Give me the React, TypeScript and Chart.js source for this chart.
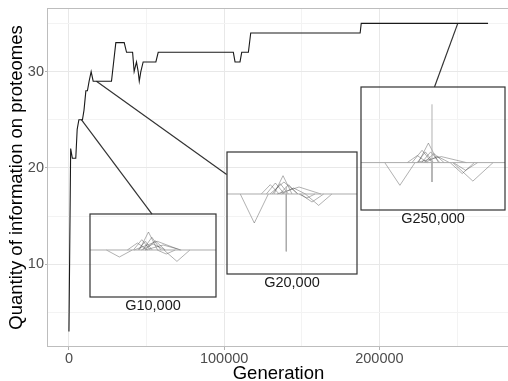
import React, { useEffect, useRef } from 'react';
import { Chart, registerables } from 'chart.js';

Chart.register(...registerables);

const FONT = "'Liberation Sans', Arial, Helvetica, sans-serif";

// ---- main series: quantity of information on proteomes vs generation ----
const GENERATIONS = [
  0, 1100, 2200, 4400, 5300, 6400, 8700, 9700, 10900, 11900,
  13000, 14300, 15600, 27400, 30200, 35600, 37100, 41000, 42000, 43500,
  44600, 45300, 46300, 47800, 56000, 57500, 105900, 107000, 110200, 111300,
  115600, 117100, 187600, 188300, 270000,
];
const INFORMATION = [
  3, 22, 21, 21, 24, 25, 25, 26, 28, 28,
  29, 30, 29, 29, 33, 33, 32, 32, 30, 31,
  30, 29, 30, 31, 31, 32, 32, 31, 31, 32,
  32, 34, 34, 35, 35,
];

const X_TITLE = 'Generation';
const Y_TITLE = 'Quantity of information on proteomes';
const X_MAJOR_TICKS = [0, 100000, 200000];
const X_MINOR_TICKS = [50000, 150000, 250000];
const Y_MAJOR_TICKS = [10, 20, 30];
const Y_MINOR_TICKS = [5, 15, 25, 35];
const X_RANGE = [-13500, 283500];
const Y_RANGE = [1.4, 36.6];

// ---- insets (placed in main data coordinates) ----
const INSET_LABELS = ['G10,000', 'G20,000', 'G250,000'];
const INSET_GEN_MIN = [13500, 101600, 188300];
const INSET_GEN_MAX = [94500, 185500, 280700];
const INSET_Q_MIN = [6.55, 9.0, 15.6];
const INSET_Q_MAX = [15.2, 21.6, 28.4];
const INSET_H_MIN = [-0.47, -0.8, -0.474];
const INSET_H_MAX = [0.36, 0.42, 0.756];

// connectors from the curve to each inset
const LINK_FROM_GEN = [8000, 17700, 250500];
const LINK_FROM_Q = [25, 29, 35];
const LINK_TO_GEN = [53500, 101600, 235500];
const LINK_TO_Q = [15.2, 19.3, 28.4];

// proteome triangles: centre, half-width, height
const G10K_CENTER = [0.233, 0.464, 0.411, 0.491, 0.438, 0.517, 0.376, 0.533, 0.69, 0.501, 0.605, 0.581];
const G10K_WIDTH = [0.103, 0.072, 0.067, 0.072, 0.056, 0.08, 0.08, 0.183, 0.103, 0.095, 0.072, 0.143];
const G10K_HEIGHT = [-0.07, 0.18, 0.103, 0.127, 0.087, 0.093, 0.07, 0.087, -0.114, 0.06, -0.04, 0.05];
const G10K_SPIKE_AT: number[] = [];
const G10K_SPIKE_HEIGHT: number[] = [];

const G20K_CENTER = [0.21, 0.431, 0.372, 0.41, 0.474, 0.512, 0.333, 0.705, 0.654, 0.615, 0.554, 0.438];
const G20K_WIDTH = [0.108, 0.069, 0.069, 0.062, 0.069, 0.092, 0.069, 0.102, 0.09, 0.062, 0.169, 0.108];
const G20K_HEIGHT = [-0.29, 0.183, 0.11, 0.103, 0.093, 0.06, 0.093, -0.114, -0.08, -0.04, 0.07, 0.12];
const G20K_SPIKE_AT = [0.456, 0.456];
const G20K_SPIKE_HEIGHT = [-0.574, 0.076];

const G250K_CENTER = [0.27, 0.468, 0.424, 0.447, 0.484, 0.507, 0.53, 0.391, 0.777, 0.703, 0.726, 0.558];
const G250K_WIDTH = [0.105, 0.07, 0.07, 0.056, 0.063, 0.07, 0.084, 0.07, 0.14, 0.084, 0.084, 0.174];
const G250K_HEIGHT = [-0.227, 0.195, 0.123, 0.107, 0.107, 0.09, 0.063, 0.07, -0.185, -0.11, -0.077, 0.06];
const G250K_SPIKE_AT = [0.493, 0.493];
const G250K_SPIKE_HEIGHT = [0.583, -0.194];

const INSET_CENTERS = [G10K_CENTER, G20K_CENTER, G250K_CENTER];
const INSET_WIDTHS = [G10K_WIDTH, G20K_WIDTH, G250K_WIDTH];
const INSET_HEIGHTS = [G10K_HEIGHT, G20K_HEIGHT, G250K_HEIGHT];
const INSET_SPIKE_AT = [G10K_SPIKE_AT, G20K_SPIKE_AT, G250K_SPIKE_AT];
const INSET_SPIKE_HEIGHT = [G10K_SPIKE_HEIGHT, G20K_SPIKE_HEIGHT, G250K_SPIKE_HEIGHT];

const CANVAS_W = 510;
const CANVAS_H = 381;

const panelBorder = {
  id: 'panelBorder',
  beforeDatasetsDraw(chart: any) {
    const { ctx, chartArea: a } = chart;
    ctx.save();
    ctx.strokeStyle = '#bdbdbd';
    ctx.lineWidth = 1;
    ctx.strokeRect(Math.round(a.left) - 0.5, Math.round(a.top) + 0.5, Math.round(a.right - a.left) + 1, Math.round(a.bottom - a.top) - 1);
    ctx.restore();
  },
};

const insetBorder = {
  id: 'insetBorder',
  afterDraw(chart: any) {
    const { ctx, chartArea: a } = chart;
    ctx.save();
    ctx.strokeStyle = '#333333';
    ctx.lineWidth = 1.2;
    ctx.strokeRect(a.left, a.top, a.right - a.left, a.bottom - a.top);
    ctx.restore();
  },
};

const isIn = (arr: number[], v: number) => arr.some((t) => Math.abs(t - v) < 1e-6);

export default function App() {
  const mainRef = useRef<HTMLCanvasElement>(null);
  const inset0 = useRef<HTMLCanvasElement>(null);
  const inset1 = useRef<HTMLCanvasElement>(null);
  const inset2 = useRef<HTMLCanvasElement>(null);

  useEffect(() => {
    const charts: Chart[] = [];
    const insetCanvases = [inset0.current!, inset1.current!, inset2.current!];

    const linkSets = LINK_FROM_GEN.map((g, i) => ({
      data: [
        { x: g, y: LINK_FROM_Q[i] },
        { x: LINK_TO_GEN[i], y: LINK_TO_Q[i] },
      ],
      borderColor: '#333333',
      borderWidth: 1.2,
      pointRadius: 0,
    }));

    const main = new Chart(mainRef.current!, {
      type: 'line',
      data: {
        datasets: [
          {
            data: GENERATIONS.map((g, i) => ({ x: g, y: INFORMATION[i] })),
            borderColor: '#1a1a1a',
            borderWidth: 1.1,
            pointRadius: 0,
          },
          ...linkSets,
        ],
      },
      options: {
        responsive: false,
        animation: false,
        devicePixelRatio: 1,
        layout: { padding: { top: 8, right: 1, left: 0, bottom: 0 } },
        plugins: { legend: { display: false }, tooltip: { enabled: false } },
        elements: { line: { tension: 0 } },
        scales: {
          x: {
            type: 'linear',
            min: X_RANGE[0],
            max: X_RANGE[1],
            afterBuildTicks: (s: any) => {
              s.ticks = [...X_MAJOR_TICKS, ...X_MINOR_TICKS].sort((a, b) => a - b).map((value) => ({ value }));
            },
            afterFit: (s: any) => {
              s.height = 34;
              s.paddingLeft = 0; s.paddingRight = 0; s.paddingTop = 0; s.paddingBottom = 0;
            },
            ticks: {
              autoSkip: false,
              maxRotation: 0,
              padding: 0,
              color: '#4d4d4d',
              font: { family: FONT, size: 14.5 },
              callback: (v: any) => (isIn(X_MAJOR_TICKS, Number(v)) ? String(v) : ''),
            },
            grid: {
              color: (c: any) => (isIn(X_MAJOR_TICKS, c.tick?.value) ? '#e8e8e8' : '#f3f3f3'),
              lineWidth: 1,
              tickLength: 3,
              tickColor: (c: any) => (isIn(X_MAJOR_TICKS, c.tick?.value) ? '#b3b3b3' : 'rgba(0,0,0,0)'),
            },
            border: { display: false },
            title: {
              display: true,
              text: X_TITLE,
              color: '#000000',
              padding: 0,
              font: { family: FONT, size: 18.5, lineHeight: 0.8 },
            },
          },
          y: {
            type: 'linear',
            min: Y_RANGE[0],
            max: Y_RANGE[1],
            afterBuildTicks: (s: any) => {
              s.ticks = [...Y_MAJOR_TICKS, ...Y_MINOR_TICKS].sort((a, b) => a - b).map((value) => ({ value }));
            },
            afterFit: (s: any) => {
              s.width = 48;
              s.paddingLeft = 0; s.paddingRight = 0; s.paddingTop = 0; s.paddingBottom = 0;
            },
            ticks: {
              autoSkip: false,
              padding: 1,
              color: '#4d4d4d',
              font: { family: FONT, size: 14.5 },
              callback: (v: any) => (isIn(Y_MAJOR_TICKS, Number(v)) ? String(v) : ''),
            },
            grid: {
              color: (c: any) => (isIn(Y_MAJOR_TICKS, c.tick?.value) ? '#e8e8e8' : '#f3f3f3'),
              lineWidth: 1,
              tickLength: 3,
              tickColor: (c: any) => (isIn(Y_MAJOR_TICKS, c.tick?.value) ? '#b3b3b3' : 'rgba(0,0,0,0)'),
            },
            border: { display: false },
            title: {
              display: true,
              text: Y_TITLE,
              color: '#000000',
              padding: { top: 7.5, bottom: 0 },
              font: { family: FONT, size: 18.5, lineHeight: 1 },
            },
          },
        },
      },
      plugins: [panelBorder],
    } as any);
    charts.push(main);

    const xs = main.scales.x;
    const ys = main.scales.y;
    const PAD = 1;
    const TITLE_BLOCK = 20;

    insetCanvases.forEach((cv, i) => {
      const left = Math.round(xs.getPixelForValue(INSET_GEN_MIN[i]));
      const right = Math.round(xs.getPixelForValue(INSET_GEN_MAX[i]));
      const top = Math.round(ys.getPixelForValue(INSET_Q_MAX[i]));
      const bottom = Math.round(ys.getPixelForValue(INSET_Q_MIN[i]));
      const w = right - left + 2 * PAD;
      const h = bottom - top + 2 * PAD + TITLE_BLOCK;
      cv.width = w;
      cv.height = h;
      cv.style.width = w + 'px';
      cv.style.height = h + 'px';
      cv.style.left = left - PAD + 'px';
      cv.style.top = top - PAD + 'px';

      const tri = INSET_CENTERS[i].map((m, k) => ({
        data: [
          { x: m - INSET_WIDTHS[i][k], y: 0 },
          { x: m, y: INSET_HEIGHTS[i][k] },
          { x: m + INSET_WIDTHS[i][k], y: 0 },
        ],
        borderColor: 'rgba(60,60,60,0.5)',
        borderWidth: 0.8,
        pointRadius: 0,
      }));
      const spikes = INSET_SPIKE_AT[i].map((m, k) => ({
        data: [
          { x: m, y: 0 },
          { x: m, y: INSET_SPIKE_HEIGHT[i][k] },
        ],
        borderColor: 'rgba(170,170,170,0.9)',
        borderWidth: 1,
        pointRadius: 0,
      }));
      const baseline = {
        data: [
          { x: 0, y: 0 },
          { x: 1, y: 0 },
        ],
        borderColor: 'rgba(165,165,165,0.95)',
        borderWidth: 1,
        pointRadius: 0,
      };

      charts.push(
        new Chart(cv, {
          type: 'line',
          data: { datasets: [baseline, ...spikes, ...tri] },
          options: {
            responsive: false,
            animation: false,
            devicePixelRatio: 1,
            layout: { padding: PAD },
            elements: { line: { tension: 0 } },
            plugins: {
              legend: { display: false },
              tooltip: { enabled: false },
              title: {
                display: true,
                text: INSET_LABELS[i],
                position: 'bottom',
                color: '#1a1a1a',
                padding: { top: 0.3, bottom: 2.3 },
                font: { family: FONT, size: 14.5, lineHeight: 1.2, weight: 'normal' },
              },
            },
            scales: {
              x: { type: 'linear', min: 0, max: 1, display: false },
              y: { type: 'linear', min: INSET_H_MIN[i], max: INSET_H_MAX[i], display: false },
            },
          },
          plugins: [insetBorder],
        } as any)
      );
    });

    return () => charts.forEach((c) => c.destroy());
  }, []);

  const abs: React.CSSProperties = { position: 'absolute', left: 0, top: 0 };
  return (
    <div style={{ position: 'absolute', left: 0, top: 0, width: 508, height: 381, overflow: 'hidden', background: '#ffffff' }}>
      <canvas ref={mainRef} width={CANVAS_W} height={CANVAS_H} style={{ ...abs, width: CANVAS_W, height: CANVAS_H }} />
      <canvas ref={inset0} style={abs} />
      <canvas ref={inset1} style={abs} />
      <canvas ref={inset2} style={abs} />
    </div>
  );
}
